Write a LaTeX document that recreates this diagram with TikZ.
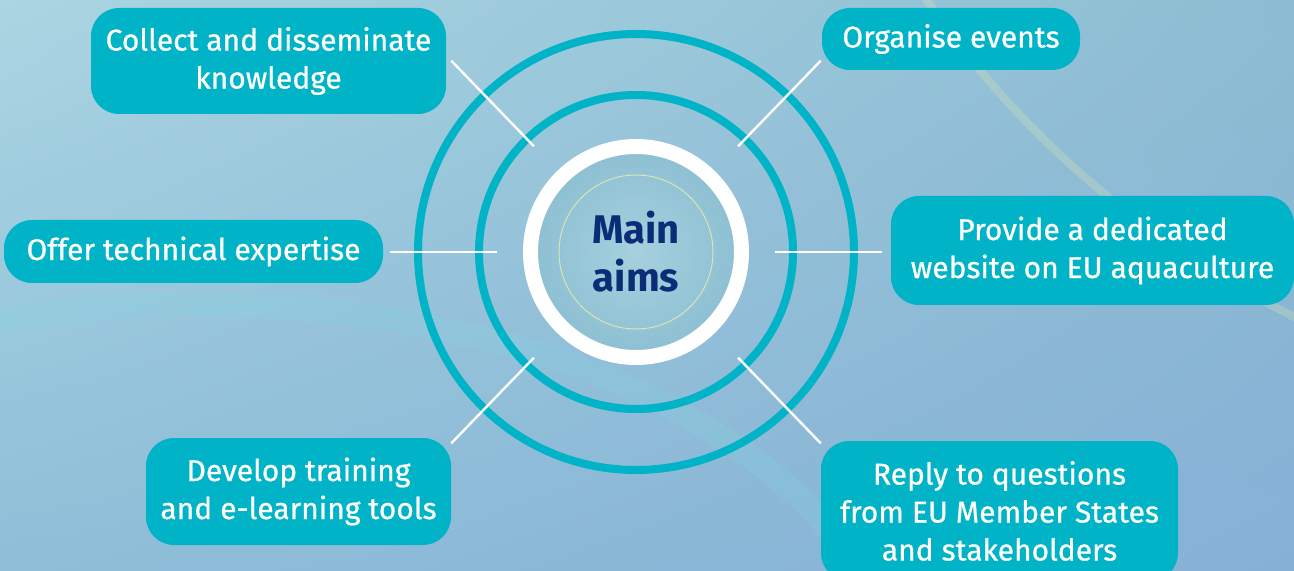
\documentclass[tikz,border=0pt]{standalone}
\usepackage{fontspec}
\setmainfont{Fira Sans}
\newfontfamily\aimfont[FakeBold=0.7]{Fira Sans}
\usetikzlibrary{shadings}
\definecolor{aimteal}{HTML}{00B3C7}
\definecolor{aimnavy}{HTML}{0B2D78}
\definecolor{aimpale}{HTML}{D6E6B4}
\definecolor{bgul}{RGB}{170,213,226}
\definecolor{bgur}{RGB}{141,188,210}
\definecolor{bgll}{RGB}{142,190,216}
\definecolor{bglr}{RGB}{135,176,214}
\definecolor{glowin}{RGB}{166,209,222}
\definecolor{glowout}{RGB}{142,192,211}
\begin{document}
\begin{tikzpicture}[x=0.5pt, y=-0.5pt,
    aim/.style={fill=aimteal, text=white, rounded corners=14pt, align=center,
      inner sep=0pt, font=\aimfont\fontsize{15}{19}\selectfont},
    ring/.style={draw=aimteal, line width=4pt},
    spoke/.style={draw=white, line width=1.2pt}]
    \useasboundingbox (0,0) rectangle (1294,571);
    \shade[upper left=bgul, upper right=bgur, lower left=bgll, lower right=bglr]
      (0,0) rectangle (1294,571);

    % faint swooshes
    \draw[aimteal!50!white, opacity=0.2, line width=12pt, line cap=round]
      (-20,325) .. controls (250,270) and (650,320) .. (830,530);
    \draw[aimpale, opacity=0.3, line width=4pt]
      (920,-10) .. controls (1000,110) and (1120,230) .. (1300,320);

    % rings
    \coordinate (c) at (636,252);
    \shade[inner color=glowin, outer color=glowout] (c) circle (49pt);
    \draw[ring] (c) circle (109pt);
    \draw[ring] (c) circle (78.5pt);
    \draw[white, line width=7.5pt] (c) circle (52.75pt);
    \draw[aimpale, line width=0.5pt] (c) circle (38.5pt);
    \node[text=aimnavy, align=center, font=\fontsize{20}{24}\selectfont\bfseries]
      (main) at (c) {Main\\aims};

    % spokes
    \foreach \a in {46,134,226,314}
      \draw[spoke] (c) ++(\a:147) -- ++(\a:119);
    \foreach \a in {0,180}
      \draw[spoke] (c) ++(\a:139) -- ++(\a:107);

    % aims
    \node[aim, minimum width=177.5pt, minimum height=53pt] (collect) at (268.5,61)
      {Collect and disseminate\\knowledge};
    \node[aim, minimum width=129pt, minimum height=31pt] (events) at (951,39)
      {Organise events};
    \node[aim, minimum width=189.5pt, minimum height=31.5pt] (expert) at (193.5,251.5)
      {Offer technical expertise};
    \node[aim, minimum width=201.5pt, minimum height=54.5pt] (website) at (1092.5,250.5)
      {Provide a dedicated\\website on EU aquaculture};
    \node[aim, minimum width=152.5pt, minimum height=53.5pt] (training) at (298.5,491.5)
      {Develop training\\and e-learning tools};
    \node[aim, minimum width=178.5pt, minimum height=70pt] (reply) at (999.5,511)
      {Reply to questions\\from EU Member States\\and stakeholders};
\end{tikzpicture}
\end{document}
